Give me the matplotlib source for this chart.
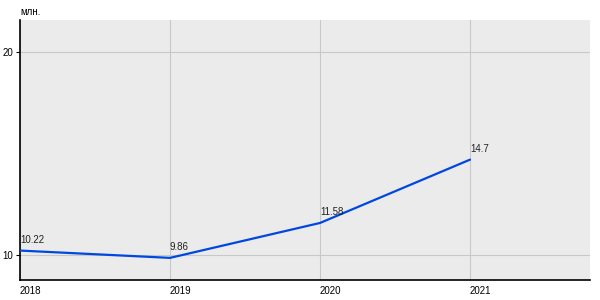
import matplotlib
matplotlib.use("Agg")
import matplotlib.pyplot as plt

years = [2018, 2019, 2020, 2021]
values = [10.22, 9.86, 11.58, 14.7]
value_labels = ["10.22", "9.86", "11.58", "14.7"]
y_ticks = [10, 20]
unit_label = "млн."

plt.rcParams["font.family"] = ["Liberation Sans", "DejaVu Sans"]

fig = plt.figure(figsize=(6, 3), dpi=100)
ax = fig.add_axes([20 / 600, 20 / 300, 570 / 600, 260 / 300])
ax.set_facecolor("#ebebeb")

ax.plot(years, values, color="#0047e0", lw=1.6, solid_capstyle="round", zorder=3)
for x, y, s in zip(years, values, value_labels):
    ax.annotate(s, (x, y), xytext=(0, 4), textcoords="offset points",
                ha="left", va="bottom", fontsize=7, color="#222222", zorder=4)

ax.set_xlim(2018, 2021.8)
ax.set_ylim(8.77, 21.58)
ax.set_xticks(years)
ax.set_xticklabels([str(y) for y in years], ha="left", fontsize=7)
ax.set_yticks(y_ticks)
ax.set_yticklabels([str(t) for t in y_ticks], fontsize=7)
ax.tick_params(axis="x", length=0, pad=4)
ax.tick_params(axis="y", length=3, pad=2, width=0.8)
ax.grid(True, color="#c8c8c8", lw=0.8, zorder=0)
ax.set_axisbelow(True)
for side in ("top", "right"):
    ax.spines[side].set_visible(False)
for side in ("left", "bottom"):
    ax.spines[side].set_color("black")
    ax.spines[side].set_linewidth(1.2)

fig.text(20 / 600, 1 - 12 / 300, unit_label, fontsize=7, va="center", ha="left")

fig.savefig("out.png", dpi=100)
